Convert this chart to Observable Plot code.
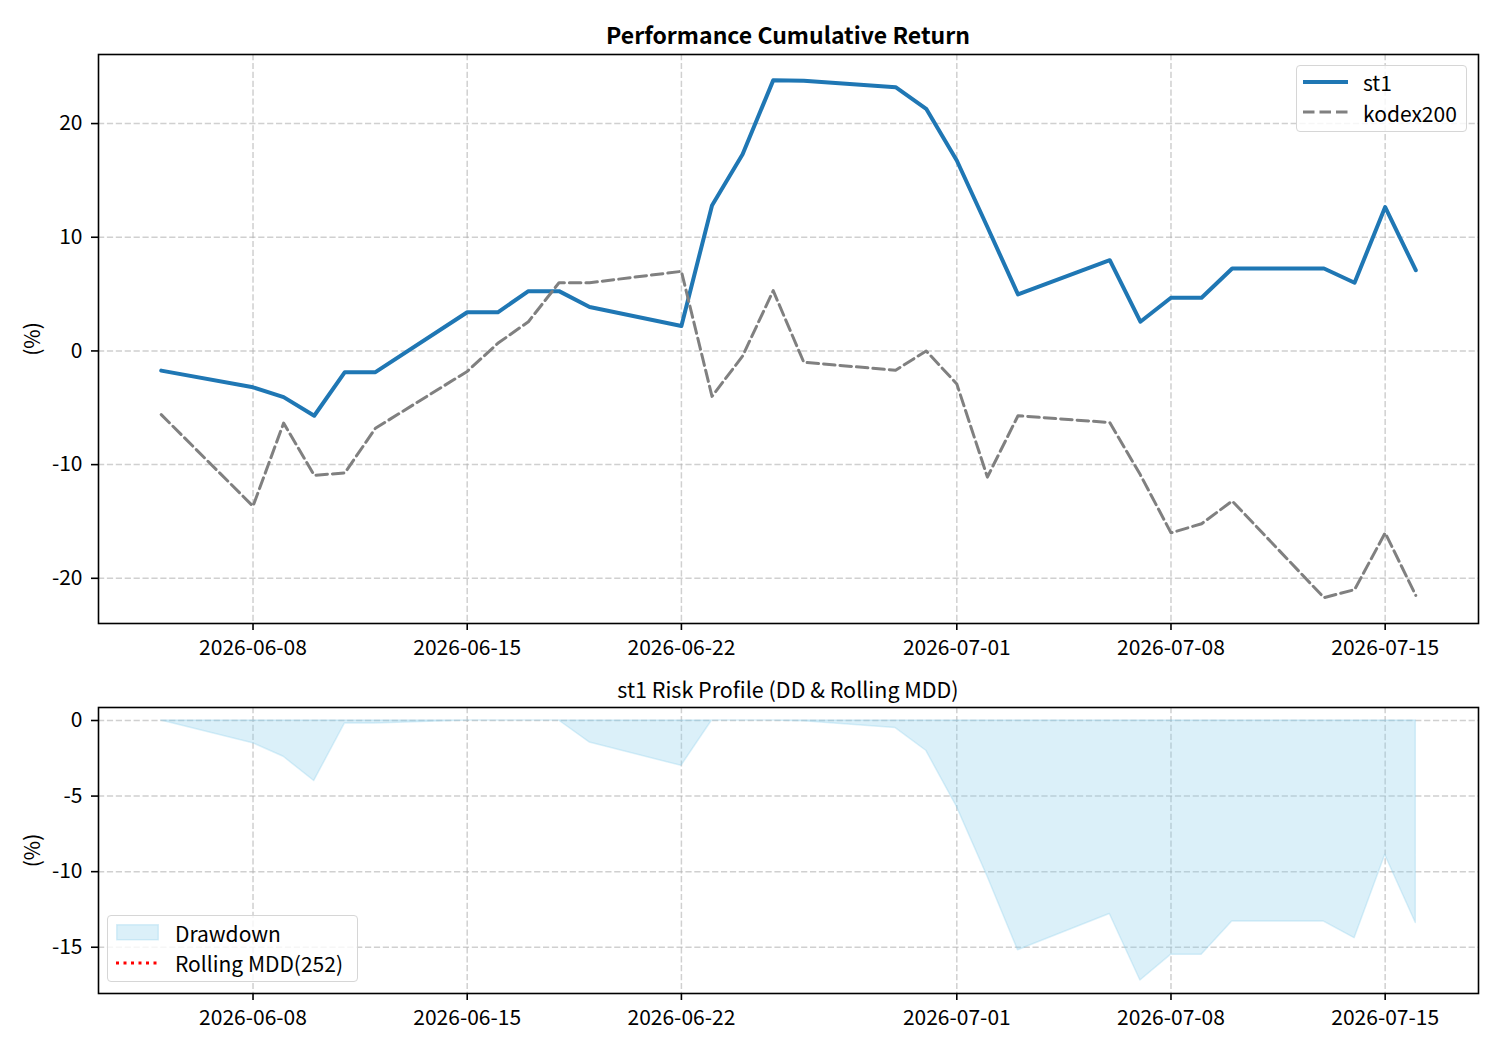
<!DOCTYPE html>
<html>
<head>
<meta charset="utf-8">
<script src="https://cdn.jsdelivr.net/npm/d3@7"></script>
<script src="https://cdn.jsdelivr.net/npm/@observablehq/plot@0.6"></script>
<style>
  html, body { margin: 0; padding: 0; background: #fff; }
  #fig { position: relative; width: 1500px; height: 1050px; background: #fff; font-family: "Noto Sans CJK KR", "Noto Sans", sans-serif; color: #000; }
  .abs { position: absolute; }
  .txt { position: absolute; white-space: nowrap; }
  .legend { position: absolute; border: 1.3px solid #d6d6d6; border-radius: 4px; background: rgba(255,255,255,0.8); box-sizing: border-box; }
</style>
</head>
<body>
<div id="fig"></div>
<script>
// ---------------- data ----------------
const dates = ["2026-06-05","2026-06-08","2026-06-09","2026-06-10","2026-06-11","2026-06-12",
  "2026-06-15","2026-06-16","2026-06-17","2026-06-18","2026-06-19","2026-06-22","2026-06-23",
  "2026-06-24","2026-06-25","2026-06-26","2026-06-29","2026-06-30","2026-07-01","2026-07-02",
  "2026-07-03","2026-07-06","2026-07-07","2026-07-08","2026-07-09","2026-07-10","2026-07-13",
  "2026-07-14","2026-07-15","2026-07-16"];
const st1 = [-1.73,-3.2,-4.06,-5.7,-1.87,-1.87,3.4,3.4,5.26,5.26,3.86,2.2,12.8,17.3,23.8,23.77,
  23.2,21.3,16.75,10.9,4.97,7.98,2.57,4.68,4.68,7.25,7.25,6.0,12.66,7.1];
const kodex200 = [-5.6,-13.66,-6.35,-10.94,-10.73,-6.8,-1.8,0.67,2.57,6.0,6.0,7.0,-4.0,-0.45,5.3,
  -1.0,-1.7,0.0,-2.9,-11.1,-5.7,-6.3,-10.9,-16.0,-15.2,-13.2,-21.7,-21.0,-16.0,-21.5];
const drawdown = [0,-1.5,-2.4,-4.0,-0.2,-0.2,0,0,0,0,-1.45,-3.0,0,0,0,-0.05,-0.5,-2.0,-5.7,-10.3,
  -15.2,-12.8,-17.2,-15.5,-15.5,-13.3,-13.3,-14.4,-8.9,-13.4];
const xTickLabels = ["2026-06-08","2026-06-15","2026-06-22","2026-07-01","2026-07-08","2026-07-15"];
const yTicksTop = [-20,-10,0,10,20];
const yTicksBottom = [-15,-10,-5,0];
const titleTop = "Performance Cumulative Return";
const titleBottom = "st1 Risk Profile (DD & Rolling MDD)";
const seriesNames = ["st1","kodex200"];
const ddNames = ["Drawdown","Rolling MDD(252)"];

// ---------------- build ----------------
const parse = d3.utcParse("%Y-%m-%d");
const fmt = d3.utcFormat("%Y-%m-%d");
const rows = dates.map((d, i) => ({date: parse(d), st1: st1[i], kodex: kodex200[i], dd: drawdown[i]}));
const xTicks = xTickLabels.map(parse);

function padDomain(lo, hi) { const p = (hi - lo) * 0.05; return [lo - p, hi + p]; }
const t0 = rows[0].date.getTime(), t1 = rows[rows.length - 1].date.getTime();
const xd = padDomain(t0, t1);
const xDomain = [new Date(xd[0]), new Date(xd[1])];
const yTop = padDomain(d3.min([...st1, ...kodex200]), d3.max([...st1, ...kodex200]));
const yBot = padDomain(d3.min(drawdown), d3.max(drawdown));

const FONT = '"Noto Sans CJK KR", "Noto Sans", sans-serif';
const TICKFS = "21px";
const gridStyle = {stroke: "#b0b0b0", strokeOpacity: 0.6, strokeDasharray: "6.2,2.7", strokeWidth: 1.5};
const numFmt = d => String(d);

const fig = document.getElementById("fig");

function common(height, mt, mb) {
  return {
    width: 1500, height, marginLeft: 98, marginRight: 22, marginTop: mt, marginBottom: mb,
    style: {fontFamily: FONT, fontSize: TICKFS, color: "#000", background: "transparent", overflow: "visible"},
    x: {type: "utc", domain: xDomain},
  };
}

const topPlot = Plot.plot({
  ...common(636, 10, 57),
  y: {domain: yTop},
  marks: [
    Plot.gridX(xTicks, gridStyle),
    Plot.gridY(yTicksTop, gridStyle),
    Plot.line(rows, {x: "date", y: "st1", stroke: "#1f77b4", strokeWidth: 4}),
    Plot.line(rows, {x: "date", y: "kodex", stroke: "#808080", strokeWidth: 3, strokeDasharray: "11.5,5"}),
    Plot.frame({stroke: "#000", strokeWidth: 1.6}),
    Plot.axisX({ticks: xTicks, tickFormat: fmt, tickSize: 7, tickPadding: 10, label: null, strokeWidth: 1.6}),
    Plot.axisY({ticks: yTicksTop, tickFormat: numFmt, tickSize: 7, tickPadding: 9, label: "(%)",
      labelAnchor: "center", labelArrow: "none", labelOffset: 73, strokeWidth: 1.6})
  ]
});
topPlot.classList.add("abs");
topPlot.style.left = "0px"; topPlot.style.top = "44px";
fig.appendChild(topPlot);

const botPlot = Plot.plot({
  ...common(340, 7, 47),
  y: {domain: yBot},
  marks: [
    Plot.gridX(xTicks, gridStyle),
    Plot.gridY(yTicksBottom, gridStyle),
    Plot.areaY(rows, {x: "date", y1: 0, y2: "dd", fill: "#87ceeb", fillOpacity: 0.3,
      stroke: "#87ceeb", strokeOpacity: 0.3, strokeWidth: 1.5}),
    Plot.frame({stroke: "#000", strokeWidth: 1.6}),
    Plot.axisX({ticks: xTicks, tickFormat: fmt, tickSize: 7, tickPadding: 10, label: null, strokeWidth: 1.6}),
    Plot.axisY({ticks: yTicksBottom, tickFormat: numFmt, tickSize: 7, tickPadding: 9, label: "(%)",
      labelAnchor: "center", labelArrow: "none", labelOffset: 73, strokeWidth: 1.6})
  ]
});
botPlot.classList.add("abs");
botPlot.style.left = "0px"; botPlot.style.top = "700px";
fig.appendChild(botPlot);

// ---------------- titles ----------------
function addText(str, cx, cy, size, weight, anchor) {
  const el = document.createElement("div");
  el.className = "txt";
  el.textContent = str;
  el.style.fontSize = size + "px";
  el.style.fontWeight = weight || "normal";
  el.style.lineHeight = size + "px";
  el.style.top = (cy - size / 2) + "px";
  if (anchor === "start") { el.style.left = cx + "px"; }
  else { el.style.left = cx + "px"; el.style.transform = "translateX(-50%)"; }
  fig.appendChild(el);
  return el;
}
addText(titleTop, 788, 34, 23, "bold");
addText(titleBottom, 788, 689, 21.5, "normal");

// ---------------- legends ----------------
function legendBox(x, y, w, h) {
  const el = document.createElement("div");
  el.className = "legend";
  el.style.left = x + "px"; el.style.top = y + "px";
  el.style.width = w + "px"; el.style.height = h + "px";
  fig.appendChild(el);
}
function handle(svgInner, x, y, w, h) {
  const ns = "http://www.w3.org/2000/svg";
  const s = document.createElementNS(ns, "svg");
  s.setAttribute("width", w); s.setAttribute("height", h);
  s.style.position = "absolute"; s.style.left = x + "px"; s.style.top = y + "px";
  s.innerHTML = svgInner;
  fig.appendChild(s);
}
// top legend
legendBox(1296, 65, 171, 67);
handle('<line x1="0" y1="5" x2="45" y2="5" stroke="#1f77b4" stroke-width="4"/>', 1303, 77, 45, 10);
handle('<line x1="0" y1="5" x2="45" y2="5" stroke="#808080" stroke-width="3" stroke-dasharray="11.5,5"/>', 1303, 107, 45, 10);
addText(seriesNames[0], 1363, 82, 21, "normal", "start");
addText(seriesNames[1], 1363, 113, 21, "normal", "start");
// bottom legend
legendBox(107, 915, 251, 67);
handle('<rect x="0.75" y="0.75" width="41.5" height="15" fill="#87ceeb" fill-opacity="0.3" stroke="#87ceeb" stroke-opacity="0.3" stroke-width="1.5"/>', 116, 924, 43, 17);
handle('<line x1="0" y1="5" x2="43" y2="5" stroke="red" stroke-width="3" stroke-dasharray="3,4.5"/>', 116, 958, 43, 10);
addText(ddNames[0], 175, 933, 21, "normal", "start");
addText(ddNames[1], 175, 963, 21, "normal", "start");
</script>
</body>
</html>
